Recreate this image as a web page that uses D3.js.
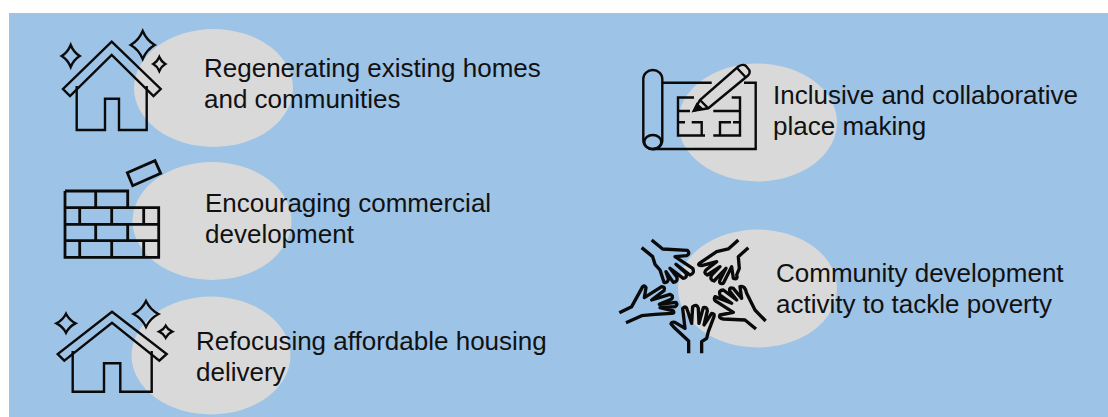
<!DOCTYPE html>
<html>
<head>
<meta charset="utf-8">
<script src="https://cdn.jsdelivr.net/npm/d3@7"></script>
<style>
  html, body { margin: 0; padding: 0; background: #fff; overflow: hidden; }
</style>
</head>
<body>
<div id="chart"></div>
<script>
// text of each item, one entry per line
const labels = [
  ["Regenerating existing homes", "and communities"],
  ["Encouraging commercial", "development"],
  ["Refocusing affordable housing", "delivery"],
  ["Inclusive and collaborative", "place making"],
  ["Community development", "activity to tackle poverty"]
];

const svg_width = 1108;
const svg_height = 417;

const svg = d3.select("#chart")
  .append("svg")
    .attr("width", svg_width)
    .attr("height", svg_height)
    .style("display", "block");

svg.append("rect")
  .attr("x", 9)
  .attr("y", 13)
  .attr("width", svg_width - 9)
  .attr("height", svg_height - 13)
  .attr("fill", "#9dc3e6");

// grey blobs behind the icons, same order as labels
const blobs = [[213.5, 88], [212, 221], [211, 355.5], [757.5, 122.5], [757.5, 288.5]];
svg.selectAll("ellipse.blob")
  .data(blobs)
  .join("ellipse")
    .attr("class", "blob")
    .attr("cx", d => d[0])
    .attr("cy", d => d[1])
    .attr("rx", 79.5)
    .attr("ry", 59)
    .attr("fill", "#d9d9d9");

// text anchor of first line
const textPos = [[204, 76.5], [205, 211.5], [196, 349.5], [773, 103.5], [776, 282]];
const lineGap = 31.3;
labels.forEach((lines, i) => {
  svg.selectAll(null)
    .data(lines)
    .join("text")
      .attr("x", textPos[i][0])
      .attr("y", (d, j) => textPos[i][1] + j * lineGap)
      .attr("font-family", "'Liberation Sans', Arial, sans-serif")
      .attr("font-size", 26)
      .attr("fill", "#111")
      .text(d => d);
});

const icons = svg.append("g")
  .attr("fill", "none")
  .attr("stroke", "#0a0a0a")
  .attr("stroke-width", 2.4)
  .attr("stroke-linejoin", "miter");

function diamond(cx, cy, rx, ry) {
  const p = d3.path();
  const k = 0.33;
  p.moveTo(cx, cy - ry);
  p.quadraticCurveTo(cx + rx * k, cy - ry * k, cx + rx, cy);
  p.quadraticCurveTo(cx + rx * k, cy + ry * k, cx, cy + ry);
  p.quadraticCurveTo(cx - rx * k, cy + ry * k, cx - rx, cy);
  p.quadraticCurveTo(cx - rx * k, cy - ry * k, cx, cy - ry);
  p.closePath();
  return p.toString();
}

// house 1
icons.append("path").attr("d", "M111.7,41.7 L160.7,89 L153.5,96 L111.7,55 L70,96 L63,89 Z");
icons.append("path").attr("d", "M76.7,86 V130 H105 V98.7 H119 V130 H146.7 V86");
[[70.7, 56, 9, 11], [142.7, 45, 12, 14], [159.3, 64, 6, 7]].forEach(d => {
  icons.append("path").attr("d", diamond(...d));
});

// house 2
icons.append("path").attr("d", "M112,311.7 L166.7,354 L159.3,360.7 L112,322.7 L64.3,360.7 L57.7,354 Z");
icons.append("path").attr("d", "M72.7,351 V391.7 H104 V363.3 H120.3 V391.7 H151.7 V351");
[[66, 323.3, 9.5, 9.5], [146, 314, 12.5, 13], [165.7, 331.7, 6.5, 6]].forEach(d => {
  icons.append("path").attr("d", diamond(...d));
});

// brick wall
icons.append("path")
  .attr("stroke-width", 2.8)
  .attr("d", "M65,191 H127.7 V207.7 M65,191 V257.3 H158.7 V207.7 H65 M65,224.3 H158.7 M65,240.7 H158.7 "
    + "M95.7,191 V207.7 M79.7,207.7 V224.3 M111.7,207.7 V224.3 M143.7,207.7 V224.3 "
    + "M95.7,224.3 V240.7 M127.7,224.3 V240.7 M79.7,240.7 V257.3 M111.7,240.7 V257.3 M143.7,240.7 V257.3");
icons.append("path")
  .attr("stroke-width", 2.8)
  .attr("d", "M127.3,172.7 L155,160.7 L160.7,173.3 L132.7,185.7 Z");

// blueprint roll and page
icons.append("rect")
  .attr("x", 643.3).attr("y", 70)
  .attr("width", 19).attr("height", 79.3)
  .attr("rx", 9.5).attr("ry", 9);
icons.append("ellipse")
  .attr("cx", 652.8).attr("cy", 142)
  .attr("rx", 8.5).attr("ry", 7);
icons.append("path").attr("d", "M662.7,82.7 H711.7 M744,82.7 H755.7 V149 H653");

// floor plan, walls with door gaps
icons.append("path").attr("d", "M694,97.5 H678 V135.5 H705 M678,111 H690 M678,122.3 H685 M691.7,122.3 H701.7 V135.5 "
  + "M731.7,97.5 H740 V135.5 H713.3 M713.3,111 H740 M740,122.3 H733 M731,122.3 H720 V135.5");

// pencil
icons.append("path").attr("d", "M694,110.7 L700,100 L738.3,66.5 Q743,63.5 746,66 L749.3,70 Q750.5,73 748,75.5 L708.3,108.3 Z "
  + "M737,68 L745,76.5 M700,100 L708.3,108.3");
icons.append("path")
  .attr("fill", "#0a0a0a")
  .attr("d", "M694,110.7 L697,104.5 L701.5,108.5 Z");

// five hands, traced at 3x from offset (600,225)
const hands = icons.append("g")
  .attr("transform", "translate(600,225) scale(0.3333)")
  .attr("stroke-width", 10)
  .attr("stroke-linecap", "butt")
  .attr("stroke-linejoin", "round");

const handPaths = [
  "M155,45 L188,72 L262,76 Q272,85 260,92 L225,95 L278,130 Q285,145 270,150 L228,118 L258,145 Q262,160 250,160 L210,130 L230,155 Q235,170 220,172 L198,140 L205,160 Q205,175 192,172 L180,135 L165,118 L158,95 L125,68",
  "M415,45 L385,72 L350,80 L298,115 Q292,122 305,122 L350,110 L318,135 Q310,145 322,150 L360,125 L335,150 Q328,165 342,168 L378,130 L360,165 Q355,178 370,175 L395,125 L400,160 Q415,165 410,150 L418,130 L415,95 L445,68",
  "M497,288 L465,255 L440,205 Q435,180 420,185 L425,220 L400,190 Q385,185 390,200 L410,225 L370,195 Q355,195 360,210 L395,235 L345,215 Q340,225 350,230 L400,262 L360,270 Q355,280 370,282 L435,285 L468,312",
  "M266,385 L266,348 L225,310 L213,297 Q215,290 225,292 L255,310 L248,250 Q258,240 262,255 L275,295 L278,245 Q290,235 295,250 L297,295 L310,248 Q322,245 322,258 L312,300 L335,265 Q345,265 342,275 L325,320 L320,340 L305,350 L305,385",
  "M58,263 L95,245 L128,185 Q135,180 138,188 L133,218 L185,185 Q197,185 192,197 L155,225 L210,208 Q222,212 215,222 L178,238 L228,232 Q235,240 225,245 L180,248 L220,258 Q225,265 215,265 L165,268 L125,272 L78,293"
];
hands.selectAll("path")
  .data(handPaths)
  .join("path")
    .attr("d", d => d);
</script>
</body>
</html>
